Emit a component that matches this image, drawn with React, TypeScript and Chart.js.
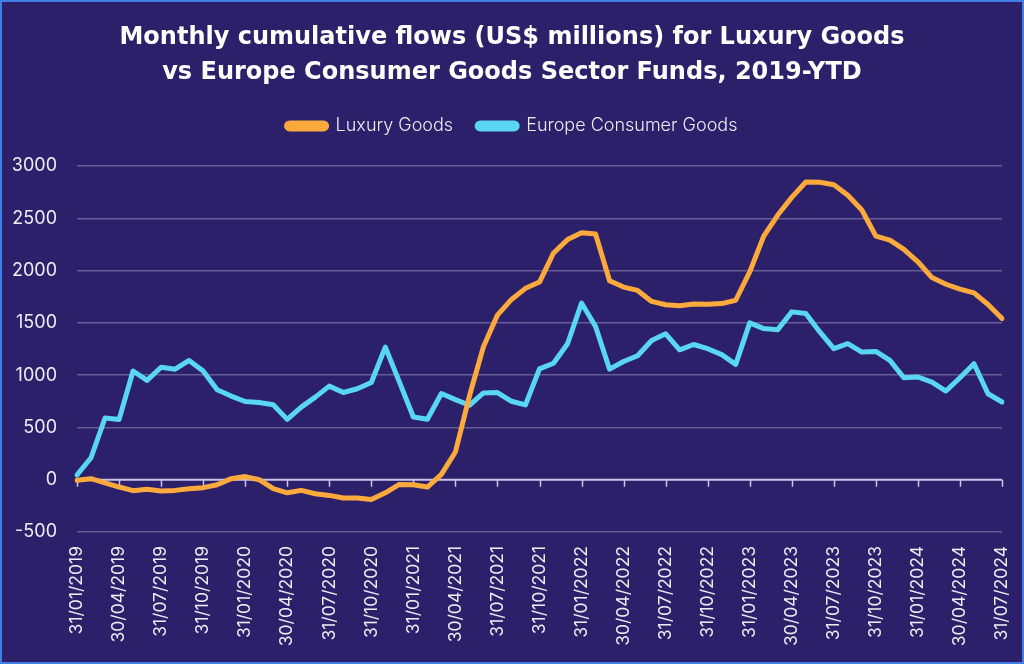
import React, { useEffect, useRef } from "react";
import { Chart, registerables } from "chart.js";

Chart.register(...registerables);

const dateLabels: string[] = [
  "31/01/2019", "28/02/2019", "31/03/2019", "30/04/2019", "31/05/2019", "30/06/2019",
  "31/07/2019", "31/08/2019", "30/09/2019", "31/10/2019", "30/11/2019", "31/12/2019",
  "31/01/2020", "29/02/2020", "31/03/2020", "30/04/2020", "31/05/2020", "30/06/2020",
  "31/07/2020", "31/08/2020", "30/09/2020", "31/10/2020", "30/11/2020", "31/12/2020",
  "31/01/2021", "28/02/2021", "31/03/2021", "30/04/2021", "31/05/2021", "30/06/2021",
  "31/07/2021", "31/08/2021", "30/09/2021", "31/10/2021", "30/11/2021", "31/12/2021",
  "31/01/2022", "28/02/2022", "31/03/2022", "30/04/2022", "31/05/2022", "30/06/2022",
  "31/07/2022", "31/08/2022", "30/09/2022", "31/10/2022", "30/11/2022", "31/12/2022",
  "31/01/2023", "28/02/2023", "31/03/2023", "30/04/2023", "31/05/2023", "30/06/2023",
  "31/07/2023", "31/08/2023", "30/09/2023", "31/10/2023", "30/11/2023", "31/12/2023",
  "31/01/2024", "29/02/2024", "31/03/2024", "30/04/2024", "31/05/2024", "30/06/2024",
  "31/07/2024",
];

const luxuryGoods: number[] = [
  -5, 10, -30, -70, -105, -92, -108, -102, -86, -76, -48, 10,
  30, 0, -86, -125, -102, -134, -150, -175, -175, -190, -125, -45,
  -48, -70, 51, 265, 800, 1271, 1574, 1724, 1830, 1890, 2168, 2296,
  2362, 2350, 1903, 1842, 1810, 1705, 1673, 1663, 1680, 1678, 1684, 1716,
  1988, 2329, 2531, 2700, 2847, 2844, 2821, 2720, 2579, 2329, 2291, 2202,
  2084, 1933, 1869, 1822, 1786, 1675, 1541,
];

const europeConsumerGoods: number[] = [
  45, 210, 590, 575, 1040, 950, 1075, 1057, 1140, 1040, 860, 800,
  748, 739, 717, 577, 694, 790, 895, 834, 870, 930, 1268, 935,
  600, 578, 824, 766, 712, 830, 833, 750, 715, 1060, 1114, 1300,
  1689, 1465, 1057, 1130, 1185, 1331, 1395, 1242, 1293, 1253, 1196, 1103,
  1500, 1445, 1435, 1605, 1589, 1413, 1253, 1301, 1221, 1227, 1141, 975,
  982, 934, 848, 975, 1109, 822, 743,
];

const titleLines: string[] = [
  "Monthly cumulative flows (US$ millions) for Luxury Goods",
  "vs Europe Consumer Goods Sector Funds, 2019-YTD",
];

const BG = "#2c206a";
const ORANGE = "#fda93b";
const CYAN = "#5ad6f5";
const TEXT = "#ececf4";

const zeroAxisPlugin = {
  id: "zeroAxis",
  beforeInit(chart: any) {
    const legend = chart.legend;
    if (legend) {
      const orig = legend.fit;
      legend.fit = function () {
        orig.call(this);
        this.height = 73;
      };
    }
  },
  beforeDatasetsDraw(chart: any) {
    const { ctx, scales, chartArea } = chart;
    const x = scales.x;
    const y = scales.y;
    const y0 = y.getPixelForValue(0);
    ctx.save();
    ctx.strokeStyle = "#cbc5ee";
    ctx.lineWidth = 2;
    ctx.beginPath();
    ctx.moveTo(chartArea.left, y0);
    ctx.lineTo(chartArea.right, y0);
    ctx.stroke();
    ctx.lineWidth = 1.5;
    for (let i = 0; i < dateLabels.length; i += 3) {
      const px = Math.round(x.getPixelForValue(i)) + 0.5;
      ctx.beginPath();
      ctx.moveTo(px, y0);
      ctx.lineTo(px, y0 + 7);
      ctx.stroke();
    }
    ctx.restore();
  },
};

export default function App() {
  const canvasRef = useRef<HTMLCanvasElement | null>(null);

  useEffect(() => {
    if (!canvasRef.current) return;
    const chart = new Chart(canvasRef.current, {
      type: "line",
      data: {
        labels: dateLabels,
        datasets: [
          {
            label: "Luxury Goods",
            data: luxuryGoods,
            borderColor: ORANGE,
            backgroundColor: ORANGE,
            borderWidth: 5,
            pointRadius: 0,
            tension: 0,
            borderJoinStyle: "round",
            borderCapStyle: "round",
          },
          {
            label: "Europe Consumer Goods",
            data: europeConsumerGoods,
            borderColor: CYAN,
            backgroundColor: CYAN,
            borderWidth: 5,
            pointRadius: 0,
            tension: 0,
            borderJoinStyle: "round",
            borderCapStyle: "round",
          },
        ],
      },
      options: {
        animation: false,
        responsive: false,
        maintainAspectRatio: false,
        layout: { padding: { left: 0, right: 0, top: 8, bottom: 0 } },
        plugins: {
          title: {
            display: true,
            text: titleLines,
            color: "#ffffff",
            font: { family: "DejaVu Sans", size: 24, weight: "bold", lineHeight: 1.458 },
            padding: { top: 10, bottom: 3 },
          },
          legend: {
            display: true,
            labels: {
              color: TEXT,
              font: { family: "Inter", size: 18, weight: "300" },
              boxWidth: 40,
              boxHeight: 6,
              useBorderRadius: true,
              borderRadius: 3,
              padding: 24,
            },
          },
          tooltip: { enabled: false },
        },
        scales: {
          x: {
            type: "category",
            grid: { display: false, drawTicks: false },
            border: { display: false },
            afterFit: (s: any) => {
              s.height = 130;
              s.paddingLeft = 0;
              s.paddingRight = 20;
            },
            ticks: {
              autoSkip: false,
              maxRotation: 90,
              minRotation: 90,
              color: TEXT,
              padding: 14,
              font: { family: "Inter", size: 17.5 },
              callback: (_v: any, i: number) => (i % 3 === 0 ? dateLabels[i] : ""),
            },
          },
          y: {
            min: -500,
            max: 3000,
            border: { display: false },
            afterFit: (s: any) => {
              s.width = 75;
            },
            grid: {
              color: (c: any) => (c.tick && c.tick.value === 0 ? "rgba(0,0,0,0)" : "rgba(255,255,255,0.28)"),
              lineWidth: 1.5,
              drawTicks: false,
            },
            ticks: {
              stepSize: 500,
              color: TEXT,
              padding: 20,
              font: { family: "Inter", size: 18 },
              callback: (v: any) => String(v),
            },
          },
        },
      },
      plugins: [zeroAxisPlugin],
    });
    return () => chart.destroy();
  }, []);

  return (
    <div
      style={{
        position: "fixed",
        left: 0,
        top: 0,
        width: 1024,
        height: 664,
        boxSizing: "border-box",
        border: "2px solid #3f7fe6",
        background: BG,
      }}
    >
      <canvas ref={canvasRef} width={1020} height={660} style={{ display: "block" }} />
    </div>
  );
}
